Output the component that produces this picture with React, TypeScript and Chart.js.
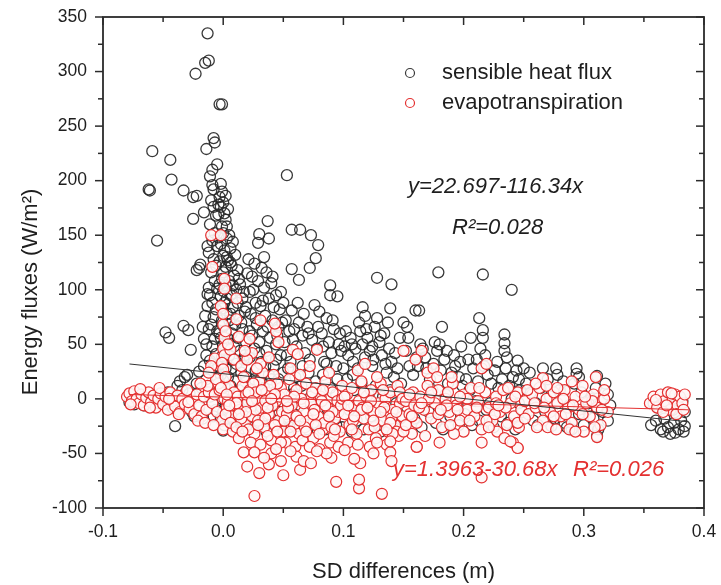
import React, { useEffect, useRef } from "react";
import { Chart, registerables } from "chart.js";

Chart.register(...registerables);

// ---- axis ticks ----
const xTicks = [-0.1, 0.0, 0.1, 0.2, 0.3, 0.4];
const xMinorTicks = [-0.05, 0.05, 0.15, 0.25, 0.35];
const yTicks = [-100, -50, 0, 50, 100, 150, 200, 250, 300, 350];
const yMinorTicks = [-75, -25, 25, 75, 125, 175, 225, 275, 325];

// ---- text ----
const xTitle = "SD differences (m)";
const yTitle = "Energy fluxes (W/m²)";
const seriesNames = ["sensible heat flux", "evapotranspiration"];
const sensibleEq = "y=22.697-116.34x";
const sensibleR2 = "R²=0.028";
const etEq = "y=1.3963-30.68x";
const etR2 = "R²=0.026";

// ---- fitted lines (end points) ----
const fitX = [-0.078, 0.387];
const sensibleFitY = [32, -21];
const etFitY = [4, -10];

// ---- sensible heat flux, flat [x, y, x, y, ...] ----
const shUpper = [
  -0.013, 335, -0.015, 308, -0.012, 310, -0.023, 298, -0.003, 270, -0.001, 270,
  -0.008, 239, -0.007, 235, -0.014, 229, -0.059, 227, -0.044, 219, -0.043, 201,
  -0.062, 192, -0.061, 191, -0.033, 191, -0.025, 185, -0.022, 186, -0.005, 215,
  -0.009, 210, -0.011, 204, -0.002, 197, -0.009, 196, -0.008, 192, 0.053, 205,
  -0.055, 145, -0.025, 165, -0.016, 171, -0.004, 169, 0.037, 163, 0.057, 155,
  0.064, 155, 0.073, 150, 0.079, 141, 0.077, 129, 0.072, 120, 0.057, 119,
  0.063, 109, 0.03, 151, 0.038, 147, 0.029, 143, 0.057, 81, 0.089, 104,
  0.095, 94, 0.089, 95, 0.128, 111, 0.14, 105, 0.179, 116, 0.216, 114,
  0.24, 100, 0.139, 83, 0.16, 81, 0.163, 81, 0.15, 70, 0.153, 66,
  0.182, 66, 0.213, 74, 0.216, 63, 0.216, 56, 0.206, 56, 0.234, 59,
  0.234, 51, 0.234, 44, 0.245, 35, 0.116, 84, 0.118, 76, 0.18, 50,
  0.197, 34, 0.266, 28, 0.277, 28, 0.294, 28, 0.294, 23, 0.311, 21,
  0.32, 4, -0.04, -25, -0.048, 61, -0.045, 56, -0.033, 67, -0.029, 63,
  -0.027, 45, -0.022, 118, -0.02, 120,
];
const shLeft = [
  -0.078, -3, -0.074, -5, -0.07, 2, -0.066, -6, -0.062, -2, -0.058, 3,
  -0.054, -4, -0.05, 1, -0.046, 6, -0.042, -8, -0.038, 12, -0.036, 16,
  -0.034, 8, -0.032, 20, -0.03, 22, -0.028, 5, -0.026, -12, -0.024, -16,
  -0.022, 14, -0.02, 25, -0.018, 10, -0.017, -18, -0.016, 55, -0.017, 66,
  -0.015, 76, -0.014, 50, -0.013, 96, -0.012, 102, -0.019, 123, -0.016, 30,
  -0.02, -8,
];
const shColumn = [
  -0.003, 185, 0.0, 180, -0.002, 176, 0.001, 170, 0.002, 164, -0.001, 158,
  0.0, 152, 0.003, 147, -0.002, 142, 0.001, 136, 0.0, 131, -0.003, 126,
  0.002, 121, 0.0, 116, -0.001, 110, 0.002, 104, 0.0, 99, -0.002, 94,
  0.001, 88, 0.0, 83, 0.003, 78, -0.001, 72, 0.0, 67, 0.002, 61,
  -0.002, 56, 0.0, 50, 0.001, 45, -0.001, 39, 0.0, 34, 0.002, 28,
  -0.002, 22, 0.0, 17, 0.001, 11, 0.0, 6, -0.001, 0, 0.002, -6,
  0.0, -12, -0.002, -18, 0.001, -24, 0.0, -29,
  -0.01, 182, -0.008, 176, -0.006, 168, -0.011, 160, -0.007, 152, -0.009, 145,
  -0.005, 140, -0.012, 134, -0.008, 128, -0.006, 122, -0.01, 116, -0.007, 108,
  -0.005, 101, -0.011, 95, -0.009, 88, -0.006, 82, -0.008, 75, -0.01, 68,
  -0.005, 62, -0.007, 55, -0.009, 48, -0.006, 41, -0.011, 35, -0.008, 28,
  -0.005, 20, -0.01, 12, -0.007, 5, -0.009, -3, -0.006, -10, -0.008, -16,
  -0.001, 190, 0.002, 186, -0.004, 178, 0.004, 174, 0.003, 130, 0.006, 95,
  -0.003, 105, 0.006, 78, 0.004, 55, -0.004, 30, 0.008, 36, 0.004, -18,
];
const shCore = [
  0.005, 150, 0.008, 144, 0.006, 138, 0.01, 132, 0.004, 127, 0.007, 122,
  0.012, 118, 0.009, 113, 0.005, 108, 0.014, 105, 0.011, 100, 0.007, 96,
  0.016, 92, 0.012, 88, 0.008, 84, 0.018, 80, 0.013, 76, 0.005, 72,
  0.01, 68, 0.016, 64, 0.007, 60, 0.012, 56, 0.019, 52, 0.009, 48,
  0.014, 44, 0.005, 40, 0.017, 36, 0.011, 32, 0.007, 28, 0.015, 24,
  0.019, 20, 0.01, 16, 0.006, 12, 0.013, 8, 0.018, 4, 0.009, 0,
  0.015, -5, 0.006, -10, 0.012, -15, 0.017, -20, 0.008, -25, 0.014, -28,
  0.021, 128, 0.026, 124, 0.032, 120, 0.036, 116, 0.024, 112, 0.029, 108,
  0.04, 106, 0.034, 102, 0.022, 98, 0.044, 95, 0.038, 92, 0.027, 88,
  0.031, 85, 0.047, 82, 0.023, 78, 0.035, 76, 0.041, 72, 0.028, 68,
  0.046, 66, 0.033, 62, 0.024, 58, 0.039, 56, 0.03, 52, 0.044, 50,
  0.026, 46, 0.036, 44, 0.048, 40, 0.022, 38, 0.032, 34, 0.042, 30,
  0.027, 26, 0.038, 22, 0.046, 18, 0.024, 14, 0.034, 10, 0.043, 6,
  0.029, 2, 0.039, -4, 0.023, -8, 0.047, -12, 0.033, -16, 0.041, -22,
  0.028, -26, 0.036, -30, 0.034, 130, 0.041, 112, 0.048, 98, 0.05, 88,
  -0.013, 140, -0.004, 148, 0.003, 158, 0.006, 125, 0.013, 110, 0.017, 98,
  0.02, 115, 0.025, 100, 0.015, 70, 0.022, 62, 0.027, 74, 0.033, 90,
  0.037, 66, 0.042, 84, 0.045, 58, 0.049, 70, 0.051, 52, 0.053, 40,
  0.056, 34, 0.059, 64, 0.019, 84, 0.008, 104, 0.003, 92, -0.013, 85,
  -0.012, 64, -0.014, 40, -0.003, 60, 0.004, 20, 0.018, 40, 0.03, 42,
  0.035, 30, 0.04, 18, 0.044, 36, 0.05, 24, 0.026, 18, 0.021, -2,
  0.031, -12, 0.045, -6, -0.014, 18, -0.011, 2, 0.01, -22, 0.02, -24,
  0.025, -20, 0.03, -22, 0.048, -24,
];
const shMid = [
  0.052, 72, 0.055, 62, 0.058, 54, 0.061, 48, 0.063, 70, 0.066, 58,
  0.068, 42, 0.07, 66, 0.072, 36, 0.074, 54, 0.076, 86, 0.078, 46,
  0.08, 80, 0.082, 60, 0.084, 34, 0.086, 74, 0.088, 52, 0.09, 42,
  0.092, 64, 0.094, 30, 0.096, 50, 0.098, 44, 0.054, 28, 0.06, 20,
  0.065, 12, 0.071, 24, 0.077, 16, 0.083, 22, 0.089, 10, 0.095, 18,
  0.057, 4, 0.064, -6, 0.069, -14, 0.075, -22, 0.081, -2, 0.087, -10,
  0.093, -18, 0.099, -26, 0.062, -25, 0.085, -28, 0.053, -18,
  0.101, 48, 0.104, 40, 0.106, 56, 0.108, 34, 0.11, 46, 0.112, 28,
  0.114, 62, 0.116, 50, 0.118, 38, 0.12, 56, 0.122, 44, 0.124, 30,
  0.126, 66, 0.128, 74, 0.13, 52, 0.132, 40, 0.134, 60, 0.136, 24,
  0.138, 46, 0.14, 34, 0.142, 20, 0.145, 28, 0.148, 14, 0.103, 18,
  0.109, 8, 0.115, 14, 0.121, 4, 0.127, 12, 0.133, 2, 0.139, 8,
  0.144, -4, 0.105, -10, 0.111, -20, 0.117, -28, 0.123, -16, 0.129, -24,
  0.135, -12, 0.141, -22, 0.147, -18, 0.107, -30, 0.131, -30,
  0.062, 88, 0.067, 78, 0.071, 60, 0.079, 66, 0.083, 48, 0.091, 72,
  0.097, 60, 0.102, 62, 0.107, 50, 0.113, 70, 0.119, 64, 0.124, 48,
  0.131, 58, 0.137, 70, 0.143, 42, 0.147, 56, 0.108, 22, 0.125, 36,
  0.135, 32, 0.059, 10, 0.066, 30, 0.073, 2, 0.086, 32, 0.094, 4, 0.1, 28,
  0.055, -26, 0.07, -28, 0.094, -24,
];
const shFar = [
  0.152, 44, 0.155, 30, 0.158, 22, 0.161, 38, 0.164, 50, 0.166, 46,
  0.169, 28, 0.172, 18, 0.175, 32, 0.178, 44, 0.181, 26, 0.184, 36,
  0.187, 14, 0.19, 24, 0.193, 30, 0.196, 20, 0.199, 12, 0.202, 18,
  0.205, 8, 0.208, 28, 0.211, 36, 0.214, 46, 0.217, 30, 0.22, 22,
  0.223, 14, 0.226, 26, 0.229, 10, 0.232, 18, 0.235, 28, 0.238, 12,
  0.241, 20, 0.244, 26, 0.247, 8, 0.153, -8, 0.159, -18, 0.165, -26,
  0.171, -12, 0.177, -22, 0.183, -28, 0.189, -16, 0.195, -6, 0.201, -14,
  0.207, -24, 0.213, -20, 0.219, -10, 0.225, -26, 0.231, -16, 0.237, -22,
  0.243, -28, 0.249, -12, 0.16, 2, 0.185, 4, 0.21, -2, 0.24, 0,
  0.252, 14, 0.256, 6, 0.26, -4, 0.264, 10, 0.268, -12, 0.272, 2,
  0.276, -18, 0.28, 8, 0.284, -22, 0.288, -6, 0.292, 14, 0.296, -14,
  0.3, -24, 0.304, -4, 0.308, -18, 0.312, -28, 0.316, -12, 0.32, -20,
  0.262, -24, 0.27, 18, 0.278, 22, 0.286, -26, 0.298, 6, 0.31, 10,
  0.258, -20, 0.29, -28, 0.302, -10, 0.322, -6, 0.311, -34, 0.273, -25,
  0.154, 56, 0.162, 30, 0.168, 38, 0.176, 52, 0.186, 44, 0.192, 40,
  0.198, 48, 0.204, 36, 0.212, 16, 0.218, 40, 0.228, 34, 0.236, 38,
  0.246, 18, 0.25, 28, 0.174, 8, 0.196, -24, 0.222, -4, 0.246, -4,
  0.255, 24, 0.283, 16, 0.296, 20, 0.306, 0, 0.318, 14,
];
const shRight = [
  0.356, -24, 0.36, -20, 0.364, -28, 0.367, -18, 0.37, -26, 0.372, -32,
  0.375, -22, 0.377, -14, 0.379, -28, 0.381, -20, 0.383, -30, 0.384, -12,
  0.382, -2, 0.378, -6, 0.374, -10, 0.369, -4, 0.362, -8, 0.358, -4,
  0.366, -30, 0.376, -31, 0.384, -25,
];

// ---- evapotranspiration, flat [x, y, x, y, ...] ----
const etUpper = [
  -0.01, 150, -0.002, 150, -0.009, 121, 0.001, 110, 0.001, 101, 0.011, 92,
  0.011, 73, 0.0, 68, 0.001, 56, 0.013, 57, -0.007, 37, -0.002, 85,
  0.0, 78, 0.002, 62, 0.0, 46, 0.001, 40, -0.001, 33, 0.0, 27,
  0.002, 20, 0.006, 45, 0.009, 36, 0.015, 30, 0.004, 50, -0.01, 30,
  -0.012, 24, 0.02, 36, 0.028, 28, 0.031, 72, 0.022, 55, 0.018, 44,
  0.043, 69,
];
const etLeft = [
  -0.08, 2, -0.078, 5, -0.076, -2, -0.074, 7, -0.072, 0, -0.07, -4,
  -0.068, 4, -0.066, -6, -0.064, 1, -0.062, 6, -0.06, -3, -0.058, 3,
  -0.056, -8, -0.054, 0, -0.052, 5, -0.05, -5, -0.048, 2, -0.046, -10,
  -0.044, 6, -0.042, -2, -0.04, -7, -0.038, 3, -0.036, -12, -0.034, 0,
  -0.032, -5, -0.03, 8, -0.028, -9, -0.026, -1, -0.024, -14, -0.022, 4,
  -0.02, -6, -0.018, -16, -0.016, 2, -0.014, -10, -0.012, 6, -0.077, -5,
  -0.069, 9, -0.061, -8, -0.053, 10, -0.045, 0, -0.037, -14, -0.029, -3,
  -0.021, -20, -0.015, -22, -0.013, 12, -0.019, 14,
  -0.009, -4, -0.007, 4, -0.005, -12, -0.003, 8, -0.001, -20, 0.001, 0,
  0.003, -8, 0.005, 12, 0.007, -16, 0.009, 6, -0.008, -24, -0.004, 14,
  0.0, -28, 0.004, -2, 0.008, -30, -0.006, 18, 0.002, -14, 0.006, -22,
  -0.002, 10, 0.01, -6,
];
const etCore = [
  0.012, 2, 0.014, -10, 0.016, 12, 0.018, -22, 0.02, -4, 0.022, 8,
  0.024, -16, 0.026, -32, 0.028, 0, 0.03, 16, 0.032, -8, 0.034, -26,
  0.036, 6, 0.038, -14, 0.04, -38, 0.042, 22, 0.044, -2, 0.046, -20,
  0.048, 10, 0.05, -30, 0.013, -36, 0.017, 20, 0.021, -28, 0.025, 14,
  0.029, -20, 0.033, 24, 0.037, -34, 0.041, -6, 0.045, 14, 0.049, -12,
  0.015, -18, 0.019, 4, 0.023, -40, 0.027, -10, 0.031, -42, 0.035, -2,
  0.039, 12, 0.043, -24, 0.047, 2, 0.011, -26, 0.031, 32, 0.024, 42,
  0.038, 38, 0.044, 62, 0.046, 52,
  0.051, 4, 0.053, -14, 0.055, 18, 0.057, -6, 0.059, -24, 0.061, 8,
  0.063, -32, 0.065, 0, 0.067, -12, 0.069, 14, 0.071, -20, 0.073, -4,
  0.075, -36, 0.077, 10, 0.079, -16, 0.081, 2, 0.083, -28, 0.085, 16,
  0.087, -8, 0.089, -40, 0.091, 6, 0.093, -18, 0.095, -2, 0.097, -30,
  0.099, 12, 0.052, -40, 0.056, 28, 0.06, -44, 0.064, 22, 0.068, -26,
  0.072, 30, 0.076, -10, 0.08, -46, 0.084, -22, 0.088, 24, 0.092, -34,
  0.096, -12, 0.058, 45, 0.062, 41, 0.078, 45, 0.054, -8, 0.066, -38,
  0.074, 6, 0.082, -2, 0.09, -26, 0.098, -6,
  0.003, 4, 0.011, -4, 0.019, -12, 0.027, 6, 0.035, -18, 0.043, 4,
  0.051, -20, 0.059, 2, 0.067, -4, 0.075, -14, 0.083, 8, 0.091, -12, 0.099, 0,
  0.005, -6, 0.013, -14, 0.021, 6, 0.029, -24, 0.037, -8, 0.045, -30,
  0.053, -2, 0.061, -16, 0.069, -30, 0.077, -24, 0.085, -6, 0.093, -28,
  0.016, -30, 0.024, -2, 0.032, 8, 0.04, 0, 0.048, -40, 0.056, -30,
  0.064, -20, 0.072, -44, 0.08, -32, 0.088, -16, 0.096, -44,
];
const etMid = [
  0.101, -14, 0.103, 4, 0.105, -24, 0.107, 10, 0.109, -6, 0.111, -32,
  0.113, -2, 0.115, 16, 0.117, -18, 0.119, 2, 0.121, -28, 0.123, 8,
  0.125, -12, 0.127, -36, 0.129, -4, 0.131, 14, 0.133, -20, 0.135, 0,
  0.137, -30, 0.139, 6, 0.141, -10, 0.143, -24, 0.145, 12, 0.147, -4,
  0.149, -16, 0.104, -40, 0.112, 26, 0.118, 32, 0.122, -44, 0.128, 20,
  0.136, -42, 0.144, -30, 0.15, 44, 0.108, -20, 0.116, -8, 0.126, -26,
  0.134, -8, 0.14, -18, 0.146, -34, 0.107, -28, 0.115, -10, 0.123, -2,
  0.131, -12, 0.139, -22, 0.147, 6,
  0.101, 2, 0.109, -16, 0.117, 6, 0.125, -20, 0.133, 8, 0.141, -32,
  0.149, 0, 0.104, -6, 0.112, -42, 0.12, -8, 0.128, -40, 0.136, -28,
  0.144, -12,
];
const etFar = [
  0.152, -2, 0.155, -14, 0.158, 6, 0.161, -22, 0.164, 2, 0.167, -10,
  0.17, 12, 0.173, -18, 0.176, -4, 0.179, 8, 0.182, -26, 0.185, 0,
  0.188, -12, 0.191, 14, 0.194, -6, 0.197, -20, 0.2, 4, 0.203, -10,
  0.206, 10, 0.209, -16, 0.212, -2, 0.215, -28, 0.218, 6, 0.221, -8,
  0.224, -20, 0.227, 2, 0.23, -12, 0.233, 8, 0.236, -24, 0.239, -4,
  0.242, -16, 0.245, 6, 0.248, -10, 0.165, 44, 0.16, 36, 0.17, 24,
  0.175, 28, 0.178, 20, 0.19, 20, 0.2, -30, 0.157, -32, 0.168, -34,
  0.18, -40, 0.215, 28, 0.219, 32, 0.228, -30, 0.234, -36, 0.241, -40,
  0.245, -45, 0.215, -40, 0.161, -44, 0.15, -30, 0.159, -6, 0.186, -6,
  0.226, -14, 0.246, -26, 0.192, -32,
  0.155, 4, 0.163, -8, 0.171, 0, 0.179, -14, 0.187, 6, 0.195, -10,
  0.203, 0, 0.211, -8, 0.219, -20, 0.227, -4, 0.235, -8, 0.243, 2,
  0.152, -24, 0.157, -16, 0.165, -4, 0.173, 6, 0.181, -10, 0.189, -24,
  0.197, 2, 0.205, -20, 0.213, 10, 0.221, -26, 0.229, -6, 0.237, 10,
  0.245, -22,
  0.251, -2, 0.254, -14, 0.257, 4, 0.26, -8, 0.263, 10, 0.266, -20,
  0.269, 0, 0.272, -12, 0.275, 6, 0.278, -4, 0.281, -16, 0.284, 8,
  0.287, -8, 0.29, -22, 0.293, 2, 0.296, -10, 0.299, 12, 0.302, -4,
  0.305, -16, 0.308, 4, 0.311, -8, 0.314, -24, 0.317, 0, 0.32, -12,
  0.266, 19, 0.278, 10, 0.29, 16, 0.31, 20, 0.288, -28, 0.311, -35,
  0.3, -30, 0.27, -26, 0.26, 14, 0.251, -18, 0.259, -4, 0.267, -8,
  0.275, -16, 0.283, 0, 0.291, -6, 0.299, -14, 0.307, -2, 0.315, -10,
  0.253, 8, 0.261, -26, 0.269, 12, 0.277, -28, 0.285, -14, 0.293, -30,
  0.301, 2, 0.309, -26, 0.317, 8,
];
const etRight = [
  0.355, -4, 0.358, 2, 0.361, -8, 0.364, 4, 0.367, -2, 0.37, 6,
  0.372, -10, 0.374, 0, 0.376, 4, 0.378, -6, 0.38, 2, 0.382, -4,
  0.384, 4, 0.366, -12, 0.377, -14, 0.383, -10, 0.369, -6, 0.36, -1, 0.373, 5,
];
const etTail = [
  0.026, -89, 0.132, -87, 0.113, -82, 0.113, -74, 0.094, -76, 0.02, -62,
  0.03, -68, 0.05, -70, 0.064, -65, 0.038, -60, 0.017, -49, 0.026, -49,
  0.04, -50, 0.048, -57, 0.061, -53, 0.067, -57, 0.073, -59, 0.09, -54,
  0.101, -47, 0.114, -59, 0.139, -49, 0.139, -39, 0.161, -44, 0.215, -72,
  0.245, -45, 0.239, -39, 0.056, -48, 0.044, -46, 0.086, -50, 0.109, -55,
  0.125, -50, 0.034, -54, 0.078, -48, 0.14, -57,
];

const pairs = (...arrs: number[][]) => {
  const out: { x: number; y: number }[] = [];
  arrs.forEach((a) => {
    for (let i = 0; i + 1 < a.length; i += 2) out.push({ x: a[i], y: a[i + 1] });
  });
  return out;
};

const FONT = "'Liberation Sans', Arial, Helvetica, sans-serif";
const BLACK = "rgba(40,40,40,0.92)";
const RED = "rgb(228,48,48)";

const decorPlugin = {
  id: "decor",
  afterDraw(chart: any) {
    const { ctx, chartArea: a, scales } = chart;
    const xs = scales.x;
    const ys = scales.y;
    ctx.save();
    ctx.strokeStyle = "#2b2b2b";
    ctx.lineWidth = 1.8;
    ctx.strokeRect(a.left, a.top, a.right - a.left, a.bottom - a.top);
    ctx.lineWidth = 1.5;
    const seg = (x1: number, y1: number, x2: number, y2: number) => {
      ctx.beginPath();
      ctx.moveTo(x1, y1);
      ctx.lineTo(x2, y2);
      ctx.stroke();
    };
    xTicks.forEach((v) => {
      const p = xs.getPixelForValue(v);
      seg(p, a.bottom, p, a.bottom + 8);
      seg(p, a.top, p, a.top + 8);
    });
    xMinorTicks.forEach((v) => {
      const p = xs.getPixelForValue(v);
      seg(p, a.bottom, p, a.bottom + 5);
      seg(p, a.top, p, a.top + 5);
    });
    yTicks.forEach((v) => {
      const p = ys.getPixelForValue(v);
      seg(a.left - 8, p, a.left, p);
      seg(a.right - 8, p, a.right, p);
    });
    yMinorTicks.forEach((v) => {
      const p = ys.getPixelForValue(v);
      seg(a.left - 5, p, a.left, p);
      seg(a.right - 5, p, a.right, p);
    });

    // axis titles
    ctx.fillStyle = "#1e1e1e";
    ctx.font = `22px ${FONT}`;
    ctx.textAlign = "center";
    ctx.textBaseline = "middle";
    ctx.fillText(xTitle, (a.left + a.right) / 2, 572);
    ctx.save();
    ctx.translate(31, 292);
    ctx.rotate(-Math.PI / 2);
    ctx.fillText(yTitle, 0, 0);
    ctx.restore();

    // legend
    const lx = 410;
    const ly = [73, 103];
    const cols = [BLACK, RED];
    ly.forEach((y, i) => {
      ctx.beginPath();
      ctx.arc(lx, y, 4.5, 0, Math.PI * 2);
      ctx.fillStyle = "#fff";
      ctx.fill();
      ctx.lineWidth = 1.2;
      ctx.strokeStyle = cols[i];
      ctx.stroke();
      ctx.fillStyle = "#1e1e1e";
      ctx.textAlign = "left";
      ctx.textBaseline = "middle";
      ctx.font = `22px ${FONT}`;
      ctx.fillText(seriesNames[i], 442, y);
    });

    // equations
    ctx.font = `italic 22px ${FONT}`;
    ctx.textAlign = "left";
    ctx.textBaseline = "middle";
    ctx.fillStyle = "#1e1e1e";
    ctx.fillText(sensibleEq, 408, 187);
    ctx.fillText(sensibleR2, 452, 228);
    ctx.fillStyle = RED;
    ctx.fillText(etEq, 393, 470);
    ctx.fillText(etR2, 573, 470);
    ctx.restore();
  },
};

export default function App() {
  const canvasRef = useRef<HTMLCanvasElement | null>(null);

  useEffect(() => {
    if (!canvasRef.current) return;
    const sensible = pairs(shLeft, shColumn, shCore, shMid, shFar, shRight, shUpper);
    const et = pairs(etLeft, etCore, etMid, etFar, etRight, etTail, etUpper);
    const shFit = fitX.map((x, i) => ({ x, y: sensibleFitY[i] }));
    const etFitPts = fitX.map((x, i) => ({ x, y: etFitY[i] }));

    const chart = new Chart(canvasRef.current, {
      type: "scatter",
      data: {
        datasets: [
          {
            label: "sensible fit",
            data: shFit,
            showLine: true,
            pointRadius: 0,
            borderColor: "#333",
            borderWidth: 1,
            order: 0,
          },
          {
            label: "et fit",
            data: etFitPts,
            showLine: true,
            pointRadius: 0,
            borderColor: RED,
            borderWidth: 1,
            order: 0,
          },
          {
            label: seriesNames[1],
            data: et,
            pointRadius: 5.5,
            borderWidth: 1.2,
            borderColor: RED,
            backgroundColor: "rgba(255,246,246,0.92)",
            order: 1,
          },
          {
            label: seriesNames[0],
            data: sensible,
            pointRadius: 5.5,
            borderWidth: 1.3,
            borderColor: BLACK,
            backgroundColor: "rgba(255,255,255,0)",
            order: 2,
          },
        ],
      },
      options: {
        responsive: false,
        animation: false,
        events: [],
        layout: { padding: { left: 0, top: 17, right: 17, bottom: 0 } },
        plugins: { legend: { display: false }, tooltip: { enabled: false } },
        scales: {
          x: {
            type: "linear",
            min: -0.1,
            max: 0.4,
            grid: { display: false, drawTicks: true, tickLength: 8 },
            border: { display: false },
            afterBuildTicks: (s: any) => {
              s.ticks = xTicks.map((v) => ({ value: v }));
            },
            afterFit: (s: any) => {
              s.height = 77;
              s.paddingLeft = 0;
              s.paddingRight = 0;
            },
            ticks: {
              padding: 6,
              color: "#1e1e1e",
              font: { family: FONT, size: 17.5 },
              maxRotation: 0,
              autoSkip: false,
              callback: (v: any) => Number(v).toFixed(1),
            },
          },
          y: {
            type: "linear",
            min: -100,
            max: 350,
            grid: { display: false, drawTicks: true, tickLength: 8 },
            border: { display: false },
            afterBuildTicks: (s: any) => {
              s.ticks = yTicks.map((v) => ({ value: v }));
            },
            afterFit: (s: any) => {
              s.width = 103;
              s.paddingTop = 0;
              s.paddingBottom = 0;
            },
            ticks: {
              padding: 8,
              color: "#1e1e1e",
              font: { family: FONT, size: 17.5 },
              autoSkip: false,
              callback: (v: any) => String(Math.round(Number(v))),
            },
          },
        },
      },
      plugins: [decorPlugin],
    });
    return () => chart.destroy();
  }, []);

  return (
    <div style={{ position: "fixed", left: 0, top: 0, width: 721, height: 585, background: "#fff" }}>
      <canvas ref={canvasRef} width={721} height={585} style={{ display: "block" }} />
    </div>
  );
}
